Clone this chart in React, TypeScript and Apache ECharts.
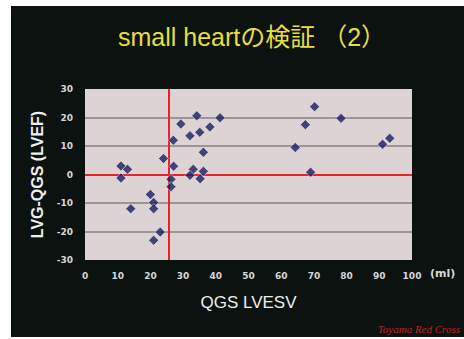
import React, { useEffect, useRef } from "react";
import * as echarts from "echarts";

const titleText = "small heartの検証 （2）";
const xName = "QGS LVESV";
const yName = "LVG-QGS (LVEF)";
const unitText = "(ml)";
const creditText = "Toyama Red Cross";

const xTicks = { min: 0, max: 100, interval: 10 };
const yTicks = { min: -30, max: 30, interval: 10 };

const refX = 25.5;
const refY = 0;

const lvesv = [
  11, 13, 11, 14, 20, 21, 21, 23, 21, 24, 26.3, 26.3, 27.1, 27, 29.3, 32.1, 34.2, 35.1, 38.2, 41.3,
  36.2, 33.1, 32.1, 36.2, 35.2, 70.2, 67.4, 78.3, 64.3, 69, 91, 93.2,
];
const diffEf = [
  3, 1.8, -1.2, -12, -7, -9.8, -12, -20.2, -23.1, 5.6, -1.7, -4.3, 2.9, 12, 17.7, 13.6, 20.6, 14.8, 16.7,
  19.9, 7.8, 1.8, -0.3, 1.1, -1.5, 23.8, 17.5, 19.7, 9.5, 0.8, 10.6, 12.7,
];

export default function App() {
  const ref = useRef<HTMLDivElement>(null);
  useEffect(() => {
    document.body.style.margin = "0";
    const chart = echarts.init(ref.current!, undefined, { renderer: "svg" });
    const points = lvesv.map((x, i) => [x, diffEf[i]]);
    const tickLabel = {
      color: "#d8d8d8",
      fontSize: 9,
      fontWeight: "bold" as const,
      fontFamily: "DejaVu Sans",
    };
    chart.setOption({
      animation: false,
      backgroundColor: "#ffffff",
      graphic: [
        {
          type: "rect",
          z: -10,
          silent: true,
          shape: { x: 11, y: 6, width: 453, height: 331 },
          style: { fill: "#0b120f" },
        },
        {
          type: "text",
          left: 118,
          top: 24,
          style: {
            text: titleText,
            fill: "#e6df3c",
            fontSize: 25,
            fontFamily: "Liberation Sans, Noto Sans CJK JP",
          },
        },
        {
          type: "text",
          left: 430,
          top: 268,
          style: {
            text: unitText,
            fill: "#d8d8d8",
            fontSize: 11,
            fontWeight: "bold",
            fontFamily: "DejaVu Sans",
          },
        },
        {
          type: "text",
          right: 4,
          top: 323,
          style: {
            text: creditText,
            fill: "#c4202c",
            fontSize: 11,
            fontStyle: "italic",
            fontFamily: "Liberation Serif",
          },
        },
      ],
      grid: {
        left: 85,
        right: 52,
        top: 89,
        bottom: 79,
        show: true,
        backgroundColor: "#ddd3d5",
        borderWidth: 0,
      },
      xAxis: {
        type: "value",
        min: xTicks.min,
        max: xTicks.max,
        interval: xTicks.interval,
        name: xName,
        nameLocation: "middle",
        nameGap: 34,
        nameTextStyle: { color: "#eeeeee", fontSize: 17, fontFamily: "Liberation Sans" },
        axisLine: { show: false },
        axisTick: { show: false },
        splitLine: { show: false },
        axisLabel: { ...tickLabel, margin: 11 },
      },
      yAxis: {
        type: "value",
        min: yTicks.min,
        max: yTicks.max,
        interval: yTicks.interval,
        name: yName,
        nameLocation: "middle",
        nameGap: 38,
        nameTextStyle: {
          color: "#eeeeee",
          fontSize: 16,
          fontWeight: "bold",
          fontFamily: "Liberation Sans",
        },
        axisLine: { show: false },
        axisTick: { show: false },
        splitLine: {
          show: true,
          showMinLine: false,
          showMaxLine: false,
          lineStyle: { color: "#877f80", width: 1.5 },
        },
        axisLabel: { ...tickLabel, margin: 12 },
      },
      series: [
        {
          type: "scatter",
          data: points,
          symbol: "diamond",
          symbolSize: 10,
          itemStyle: {
            color: "#1c1f5c",
            borderColor: "rgba(255,255,255,0.55)",
            borderWidth: 1,
          },
          markLine: {
            silent: true,
            symbol: "none",
            label: { show: false },
            lineStyle: { color: "#e8222c", width: 2, type: "solid" },
            data: [{ xAxis: refX }, { yAxis: refY }],
          },
          z: 5,
        },
      ],
    });
    return () => chart.dispose();
  }, []);
  return <div ref={ref} style={{ width: 464, height: 339 }} />;
}
